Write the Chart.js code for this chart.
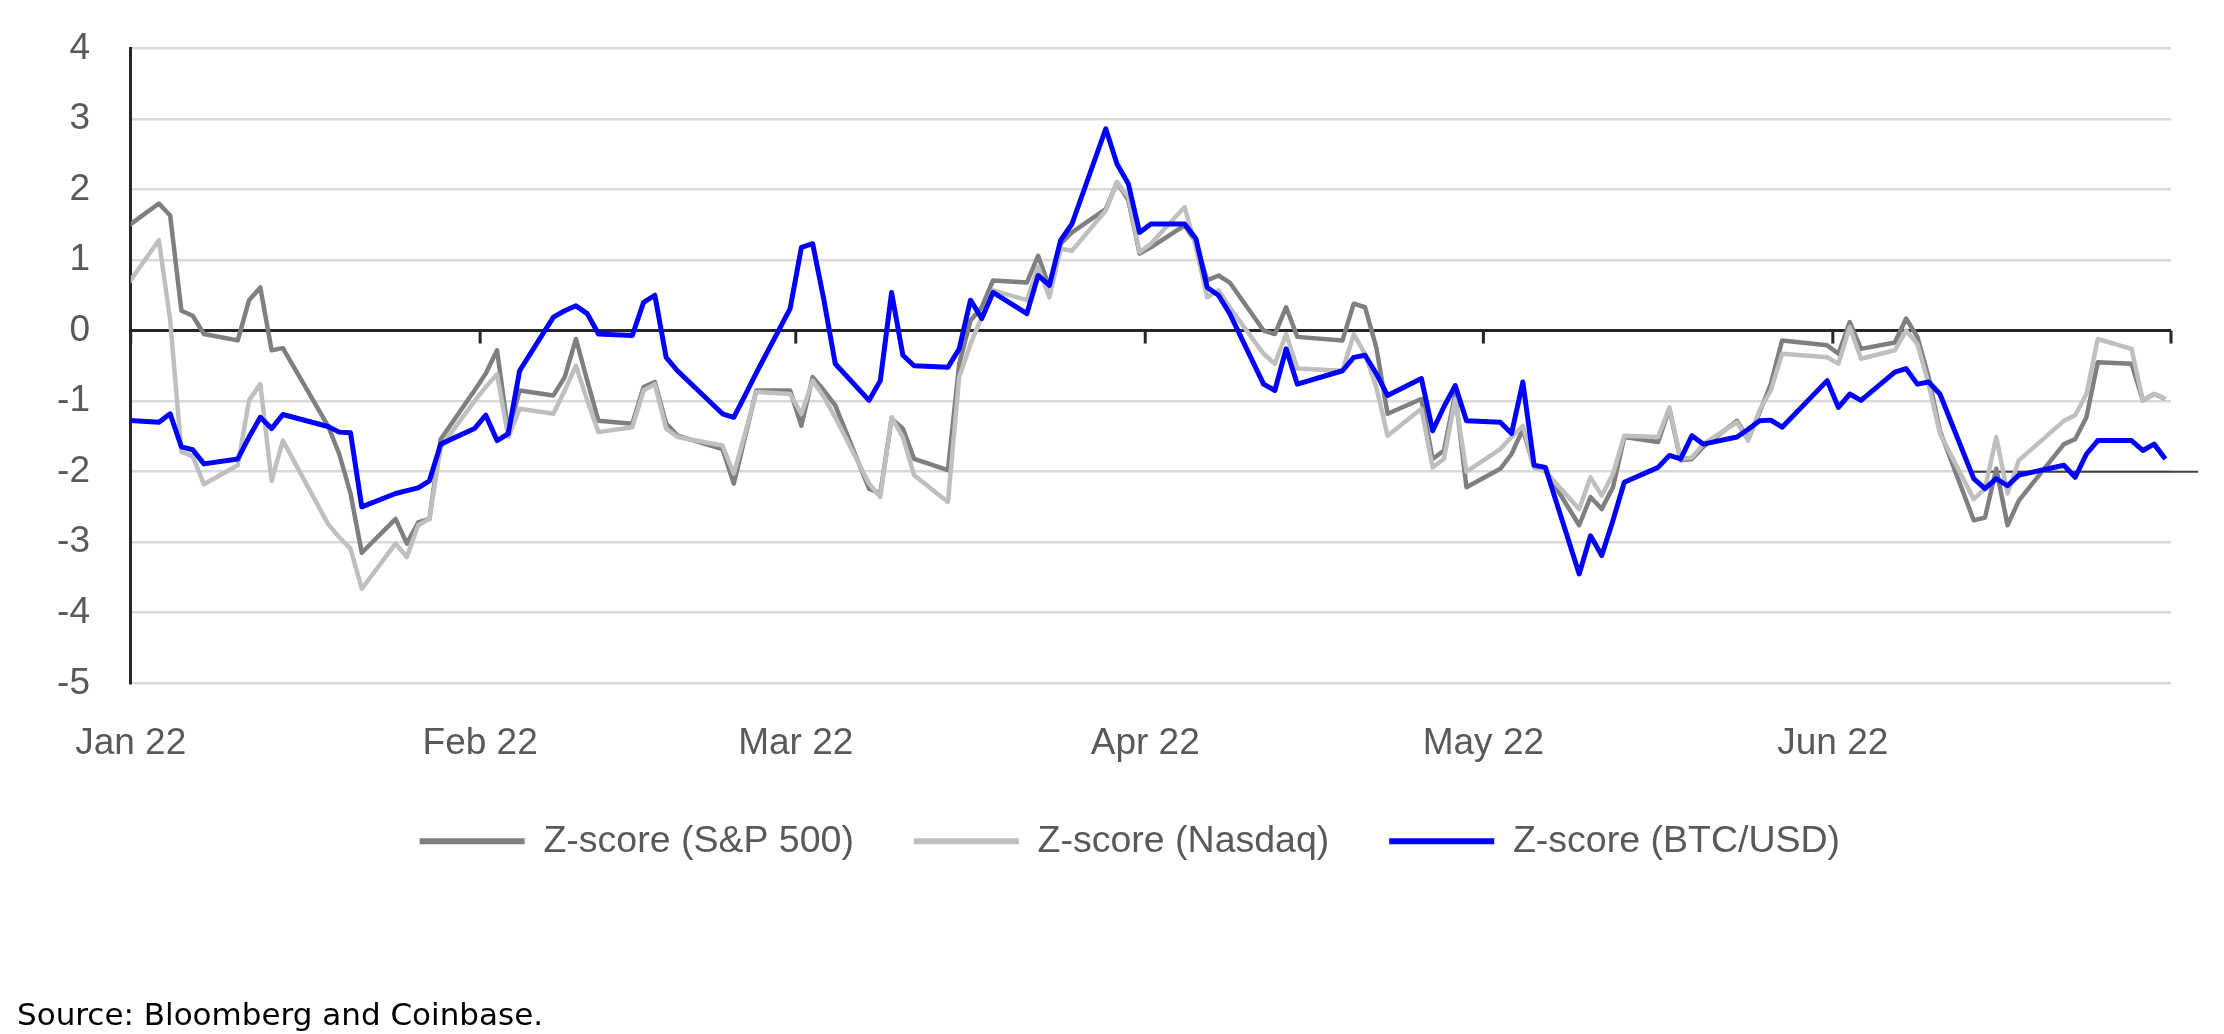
<!DOCTYPE html>
<html><head><meta charset="utf-8">
<script src="https://cdn.jsdelivr.net/npm/chart.js@4.4.1/dist/chart.umd.min.js"></script>
<style>
html,body{margin:0;padding:0;background:#fff;}
#wrap{position:relative;width:2224px;height:1034px;overflow:hidden;background:#fff;}
#c{position:absolute;left:0;top:0;}
#src{position:absolute;left:17px;top:999px;font-family:'DejaVu Sans';font-size:31px;line-height:31px;color:#000;white-space:nowrap;}
</style></head><body>
<div id="wrap"><canvas id="c" width="2224" height="1034"></canvas><div id="src">Source: Bloomberg and Coinbase.</div></div>
<script>
// ---- data ----
const dates = [
'2021-12-31','2022-01-03','2022-01-04','2022-01-05','2022-01-06','2022-01-07',
'2022-01-10','2022-01-11','2022-01-12','2022-01-13','2022-01-14',
'2022-01-18','2022-01-19','2022-01-20','2022-01-21',
'2022-01-24','2022-01-25','2022-01-26','2022-01-27','2022-01-28',
'2022-01-31','2022-02-01','2022-02-02','2022-02-03','2022-02-04',
'2022-02-07','2022-02-08','2022-02-09','2022-02-10','2022-02-11',
'2022-02-14','2022-02-15','2022-02-16','2022-02-17','2022-02-18',
'2022-02-22','2022-02-23','2022-02-24','2022-02-25',
'2022-02-28','2022-03-01','2022-03-02','2022-03-03','2022-03-04',
'2022-03-07','2022-03-08','2022-03-09','2022-03-10','2022-03-11',
'2022-03-14','2022-03-15','2022-03-16','2022-03-17','2022-03-18',
'2022-03-21','2022-03-22','2022-03-23','2022-03-24','2022-03-25',
'2022-03-28','2022-03-29','2022-03-30','2022-03-31','2022-04-01',
'2022-04-04','2022-04-05','2022-04-06','2022-04-07','2022-04-08',
'2022-04-11','2022-04-12','2022-04-13','2022-04-14',
'2022-04-18','2022-04-19','2022-04-20','2022-04-21','2022-04-22',
'2022-04-25','2022-04-26','2022-04-27','2022-04-28','2022-04-29',
'2022-05-02','2022-05-03','2022-05-04','2022-05-05','2022-05-06',
'2022-05-09','2022-05-10','2022-05-11','2022-05-12','2022-05-13',
'2022-05-16','2022-05-17','2022-05-18','2022-05-19','2022-05-20',
'2022-05-23','2022-05-24','2022-05-25','2022-05-26','2022-05-27',
'2022-05-31','2022-06-01','2022-06-02','2022-06-03',
'2022-06-06','2022-06-07','2022-06-08','2022-06-09','2022-06-10',
'2022-06-13','2022-06-14','2022-06-15','2022-06-16','2022-06-17',
'2022-06-21','2022-06-22','2022-06-23','2022-06-24',
'2022-06-27','2022-06-28','2022-06-29','2022-06-30'
];
const spx = [
1.45,1.80,1.63,0.28,0.21,-0.05,
-0.14,0.43,0.61,-0.28,-0.25,
-1.35,-1.75,-2.31,-3.15,
-2.67,-3.02,-2.72,-2.67,-1.54,
-0.85,-0.61,-0.28,-1.45,-0.85,
-0.92,-0.66,-0.12,-0.71,-1.28,
-1.32,-0.80,-0.73,-1.32,-1.49,
-1.68,-2.17,-1.51,-0.85,
-0.85,-1.35,-0.66,-0.85,-1.06,
-2.24,-2.31,-1.25,-1.39,-1.82,
-1.98,-0.47,0.14,0.33,0.71,
0.68,1.06,0.61,1.23,1.39,
1.72,2.10,1.85,1.09,1.18,
1.49,1.25,0.71,0.78,0.68,
0.00,-0.05,0.33,-0.09,
-0.14,0.38,0.33,-0.24,-1.18,
-0.97,-1.82,-1.70,-0.90,-2.22,
-1.96,-1.75,-1.40,-1.94,-1.98,
-2.76,-2.36,-2.53,-2.22,-1.51,
-1.58,-1.11,-1.84,-1.82,-1.65,
-1.28,-1.54,-1.16,-0.76,-0.14,
-0.21,-0.33,0.12,-0.26,
-0.17,0.17,-0.09,-0.66,-1.42,
-2.69,-2.65,-1.96,-2.76,-2.41,
-1.61,-1.54,-1.23,-0.45,
-0.47,-0.99,-0.90,-0.97
];
const ndx = [
0.60,1.28,0.15,-1.72,-1.78,-2.18,
-1.91,-0.99,-0.76,-2.13,-1.56,
-2.74,-2.93,-3.09,-3.66,
-3.02,-3.21,-2.76,-2.67,-1.65,
-1.00,-0.80,-0.62,-1.51,-1.11,
-1.18,-0.85,-0.50,-0.99,-1.44,
-1.37,-0.85,-0.76,-1.39,-1.51,
-1.63,-2.03,-1.46,-0.87,
-0.90,-1.18,-0.71,-0.94,-1.23,
-2.17,-2.36,-1.23,-1.51,-2.05,
-2.43,-0.66,-0.19,0.19,0.57,
0.43,0.90,0.47,1.16,1.13,
1.70,2.10,1.89,1.11,1.23,
1.75,1.18,0.47,0.57,0.33,
-0.33,-0.47,-0.05,-0.54,
-0.57,-0.05,-0.33,-0.80,-1.49,
-1.11,-1.94,-1.82,-0.97,-2.00,
-1.68,-1.51,-1.35,-1.94,-2.00,
-2.53,-2.08,-2.34,-2.03,-1.49,
-1.51,-1.09,-1.82,-1.80,-1.61,
-1.30,-1.56,-1.13,-0.85,-0.33,
-0.38,-0.47,0.05,-0.40,
-0.28,0.00,-0.19,-0.76,-1.46,
-2.39,-2.24,-1.51,-2.31,-1.84,
-1.28,-1.20,-0.90,-0.12,
-0.26,-0.99,-0.90,-0.97
];
const btc = [
-1.27,-1.30,-1.18,-1.65,-1.69,-1.89,
-1.82,-1.51,-1.23,-1.39,-1.19,
-1.36,-1.44,-1.45,-2.50,
-2.31,-2.27,-2.23,-2.13,-1.61,
-1.39,-1.20,-1.56,-1.46,-0.57,
0.19,0.28,0.35,0.24,-0.05,
-0.07,0.40,0.50,-0.38,-0.57,
-1.18,-1.23,-0.92,-0.60,
0.31,1.18,1.23,0.43,-0.47,
-0.99,-0.71,0.54,-0.35,-0.50,
-0.52,-0.26,0.43,0.17,0.54,
0.24,0.78,0.64,1.28,1.51,
2.86,2.36,2.08,1.39,1.51,
1.51,1.30,0.61,0.50,0.24,
-0.76,-0.85,-0.26,-0.76,
-0.57,-0.38,-0.35,-0.61,-0.92,
-0.68,-1.42,-1.08,-0.78,-1.28,
-1.30,-1.46,-0.73,-1.91,-1.94,
-3.45,-2.91,-3.19,-2.69,-2.15,
-1.94,-1.77,-1.82,-1.49,-1.61,
-1.51,-1.40,-1.28,-1.27,-1.37,
-0.71,-1.09,-0.90,-0.99,
-0.59,-0.54,-0.76,-0.73,-0.90,
-2.10,-2.24,-2.10,-2.20,-2.05,
-1.91,-2.08,-1.75,-1.56,
-1.56,-1.70,-1.61,-1.82
];
const seriesNames = ['Z-score (S&P 500)', 'Z-score (Nasdaq)', 'Z-score (BTC/USD)'];
const monthTickDays = [0, 31, 59, 90, 120, 151, 181];
const monthLabels = ['Jan 22', 'Feb 22', 'Mar 22', 'Apr 22', 'May 22', 'Jun 22'];
const yTicks = [4, 3, 2, 1, 0, -1, -2, -3, -4, -5];
const refLevel = -2;
const refSpanDays = [163.1, 183.4];

// ---- helpers ----
function dayOf(s) {
  const p = s.split('-').map(Number);
  return (Date.UTC(p[0], p[1] - 1, p[2], 12) - Date.UTC(2022, 0, 1)) / 864e5;
}
const xs = dates.map(dayOf);
const pts = (vals) => vals.map((v, i) => ({ x: xs[i], y: v }));

function hasFont(name) {
  const c = document.createElement('canvas').getContext('2d');
  const t = 'Jan 22 Z-score (S&P 500) mwil';
  let diff = false;
  ['monospace', 'serif'].forEach(fb => {
    c.font = '100px ' + fb; const a = c.measureText(t).width;
    c.font = '100px "' + name + '", ' + fb; const b = c.measureText(t).width;
    if (Math.abs(a - b) > 1) diff = true;
  });
  return diff;
}
const NARROW = hasFont('Liberation Sans Narrow');
const ST = NARROW
  ? { family: '"Liberation Sans Narrow", "Liberation Sans", sans-serif', tick: 45, legend: 45.7, xPad: 25.7, legPad: 55.55, bottom: 160.15, shift: -17.6 }
  : { family: '"Liberation Sans", Arial, sans-serif', tick: 37, legend: 37.5, xPad: 30.5, legPad: 59.9, bottom: 164, shift: -21 };

const TXT = '#595959';

const zeroTicks = {
  id: 'zeroTicks',
  beforeDatasetsDraw(chart) {
    const { ctx, scales: { x, y } } = chart;
    const y0 = y.getPixelForValue(0);
    ctx.save();
    ctx.strokeStyle = '#262626';
    ctx.lineWidth = 3;
    monthTickDays.forEach(d => {
      const px = x.getPixelForValue(d);
      ctx.beginPath();
      ctx.moveTo(px, y0);
      ctx.lineTo(px, y0 + 13);
      ctx.stroke();
    });
    ctx.restore();
  }
};
const legendShift = {
  id: 'legendShift',
  afterLayout(chart) {
    if (chart.legend) { chart.legend.left += ST.shift; chart.legend.right += ST.shift; }
  }
};

new Chart(document.getElementById('c'), {
  type: 'line',
  data: {
    datasets: [
      { label: seriesNames[0], data: pts(spx), borderColor: '#7f7f7f', backgroundColor: '#7f7f7f',
        borderWidth: 4.5, pointRadius: 0, tension: 0, borderJoinStyle: 'round', order: 3 },
      { label: seriesNames[1], data: pts(ndx), borderColor: '#bfbfbf', backgroundColor: '#bfbfbf',
        borderWidth: 4.5, pointRadius: 0, tension: 0, borderJoinStyle: 'round', order: 2 },
      { label: seriesNames[2], data: pts(btc), borderColor: '#0000ff', backgroundColor: '#0000ff',
        borderWidth: 5, pointRadius: 0, tension: 0, borderJoinStyle: 'round', order: 1 },
      { label: 'ref', data: refSpanDays.map(d => ({ x: d, y: refLevel })), borderColor: '#404040',
        borderWidth: 2, pointRadius: 0, clip: false, order: 4 }
    ]
  },
  options: {
    responsive: false,
    devicePixelRatio: 1,
    animation: false,
    events: [],
    layout: { padding: { top: 48.3, left: 0, right: 53, bottom: ST.bottom } },
    plugins: {
      tooltip: { enabled: false },
      legend: {
        position: 'bottom',
        fullSize: false,
        labels: {
          color: TXT,
          font: { family: ST.family, size: ST.legend },
          boxWidth: 105,
          boxHeight: 6,
          padding: ST.legPad,
          filter: (item) => item.datasetIndex < 3,
          sort: (a, b) => a.datasetIndex - b.datasetIndex,
          generateLabels: (chart) => Chart.defaults.plugins.legend.labels.generateLabels(chart)
            .map(it => Object.assign(it, { fillStyle: it.strokeStyle, lineWidth: 0 }))
        }
      }
    },
    scales: {
      x: {
        type: 'linear',
        min: 0,
        max: 181,
        afterBuildTicks: (axis) => { axis.ticks = monthTickDays.slice(0, monthLabels.length).map(v => ({ value: v })); },
        afterFit: (s) => { s.height = 79.3; s.paddingLeft = 0; s.paddingRight = 0; },
        grid: { display: false },
        border: { display: false },
        ticks: {
          autoSkip: false, maxRotation: 0, minRotation: 0,
          color: TXT, font: { family: ST.family, size: ST.tick }, padding: ST.xPad,
          callback: (v) => { const i = monthTickDays.indexOf(v); return i >= 0 && i < monthLabels.length ? monthLabels[i] : ''; }
        }
      },
      y: {
        min: -5,
        max: 4,
        afterBuildTicks: (axis) => { axis.ticks = yTicks.map(v => ({ value: v })); },
        afterFit: (s) => { s.width = 130.7; s.paddingTop = 0; s.paddingBottom = 0; },
        grid: {
          drawTicks: false,
          color: (c) => c.tick && c.tick.value === 0 ? '#262626' : '#d9d9d9',
          lineWidth: (c) => c.tick && c.tick.value === 0 ? 3 : 2.5
        },
        border: { display: true, color: '#262626', width: 3 },
        ticks: {
          color: TXT, font: { family: ST.family, size: ST.tick }, padding: 40.7,
          callback: (v) => String(v)
        }
      }
    }
  },
  plugins: [zeroTicks, legendShift]
});
</script>
</body></html>
